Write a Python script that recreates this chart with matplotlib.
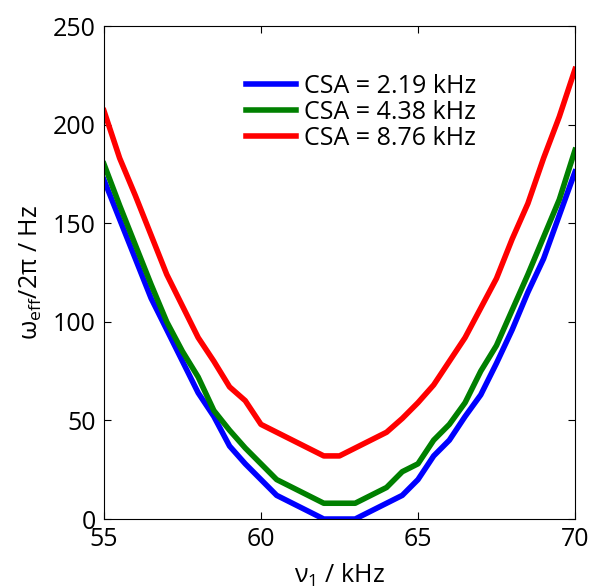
import numpy as np
import matplotlib
matplotlib.use("Agg")
import matplotlib.pyplot as plt

plt.rcParams['font.family'] = ['Open Sans', 'DejaVu Sans']
plt.rcParams['mathtext.default'] = 'regular'

nu1 = np.arange(55, 70.01, 0.5)
csa_219 = [172, 152, 132, 112, 96, 80, 64, 52, 37, 28, 20, 12, 8, 4, 0, 0, 0,
           4, 8, 12, 20, 32, 40, 52, 63, 79, 96, 115, 132, 154, 176]
csa_438 = [180, 159, 139, 119, 100, 85, 72, 55, 45, 36, 28, 20, 16, 12, 8, 8, 8,
           12, 16, 24, 28, 40, 48, 59, 75, 88, 106, 124, 143, 162, 187]
csa_876 = [207, 183, 164, 144, 124, 108, 92, 80, 67, 60, 48, 44, 40, 36, 32, 32, 36,
           40, 44, 51, 59, 68, 80, 92, 107, 122, 142, 160, 183, 204, 228]
labels = ['CSA = 2.19 kHz', 'CSA = 4.38 kHz', 'CSA = 8.76 kHz']

fig = plt.figure(figsize=(5.94, 5.86), dpi=100)
ax = fig.add_axes([0.175, 0.1143, 0.793, 0.8413])

ax.plot(nu1, csa_219, color=(0, 0, 1), lw=4, label=labels[0])
ax.plot(nu1, csa_438, color=(0, 0.5, 0), lw=4, label=labels[1])
ax.plot(nu1, csa_876, color=(1, 0, 0), lw=4, label=labels[2])

ax.set_xlim(55, 70)
ax.set_ylim(0, 250)
ax.set_xticks([55, 60, 65, 70])
ax.set_yticks(range(0, 251, 50))
ax.tick_params(direction='in', top=True, right=True, length=5, width=0.8,
               labelsize=18, pad=6)
for s in ax.spines.values():
    s.set_linewidth(0.8)

ax.set_xlabel(r'ν$_1$ / kHz', fontsize=18, labelpad=7)
ax.set_ylabel(r'ω$_{eff}$/2π / Hz', fontsize=18, labelpad=6)

ax.legend(loc='upper left', bbox_to_anchor=(0.302, 0.903), frameon=False,
          fontsize=18, handlelength=2.0, handletextpad=0.3,
          labelspacing=0.04, borderpad=0, borderaxespad=0)

fig.savefig('out.png', dpi=100)
